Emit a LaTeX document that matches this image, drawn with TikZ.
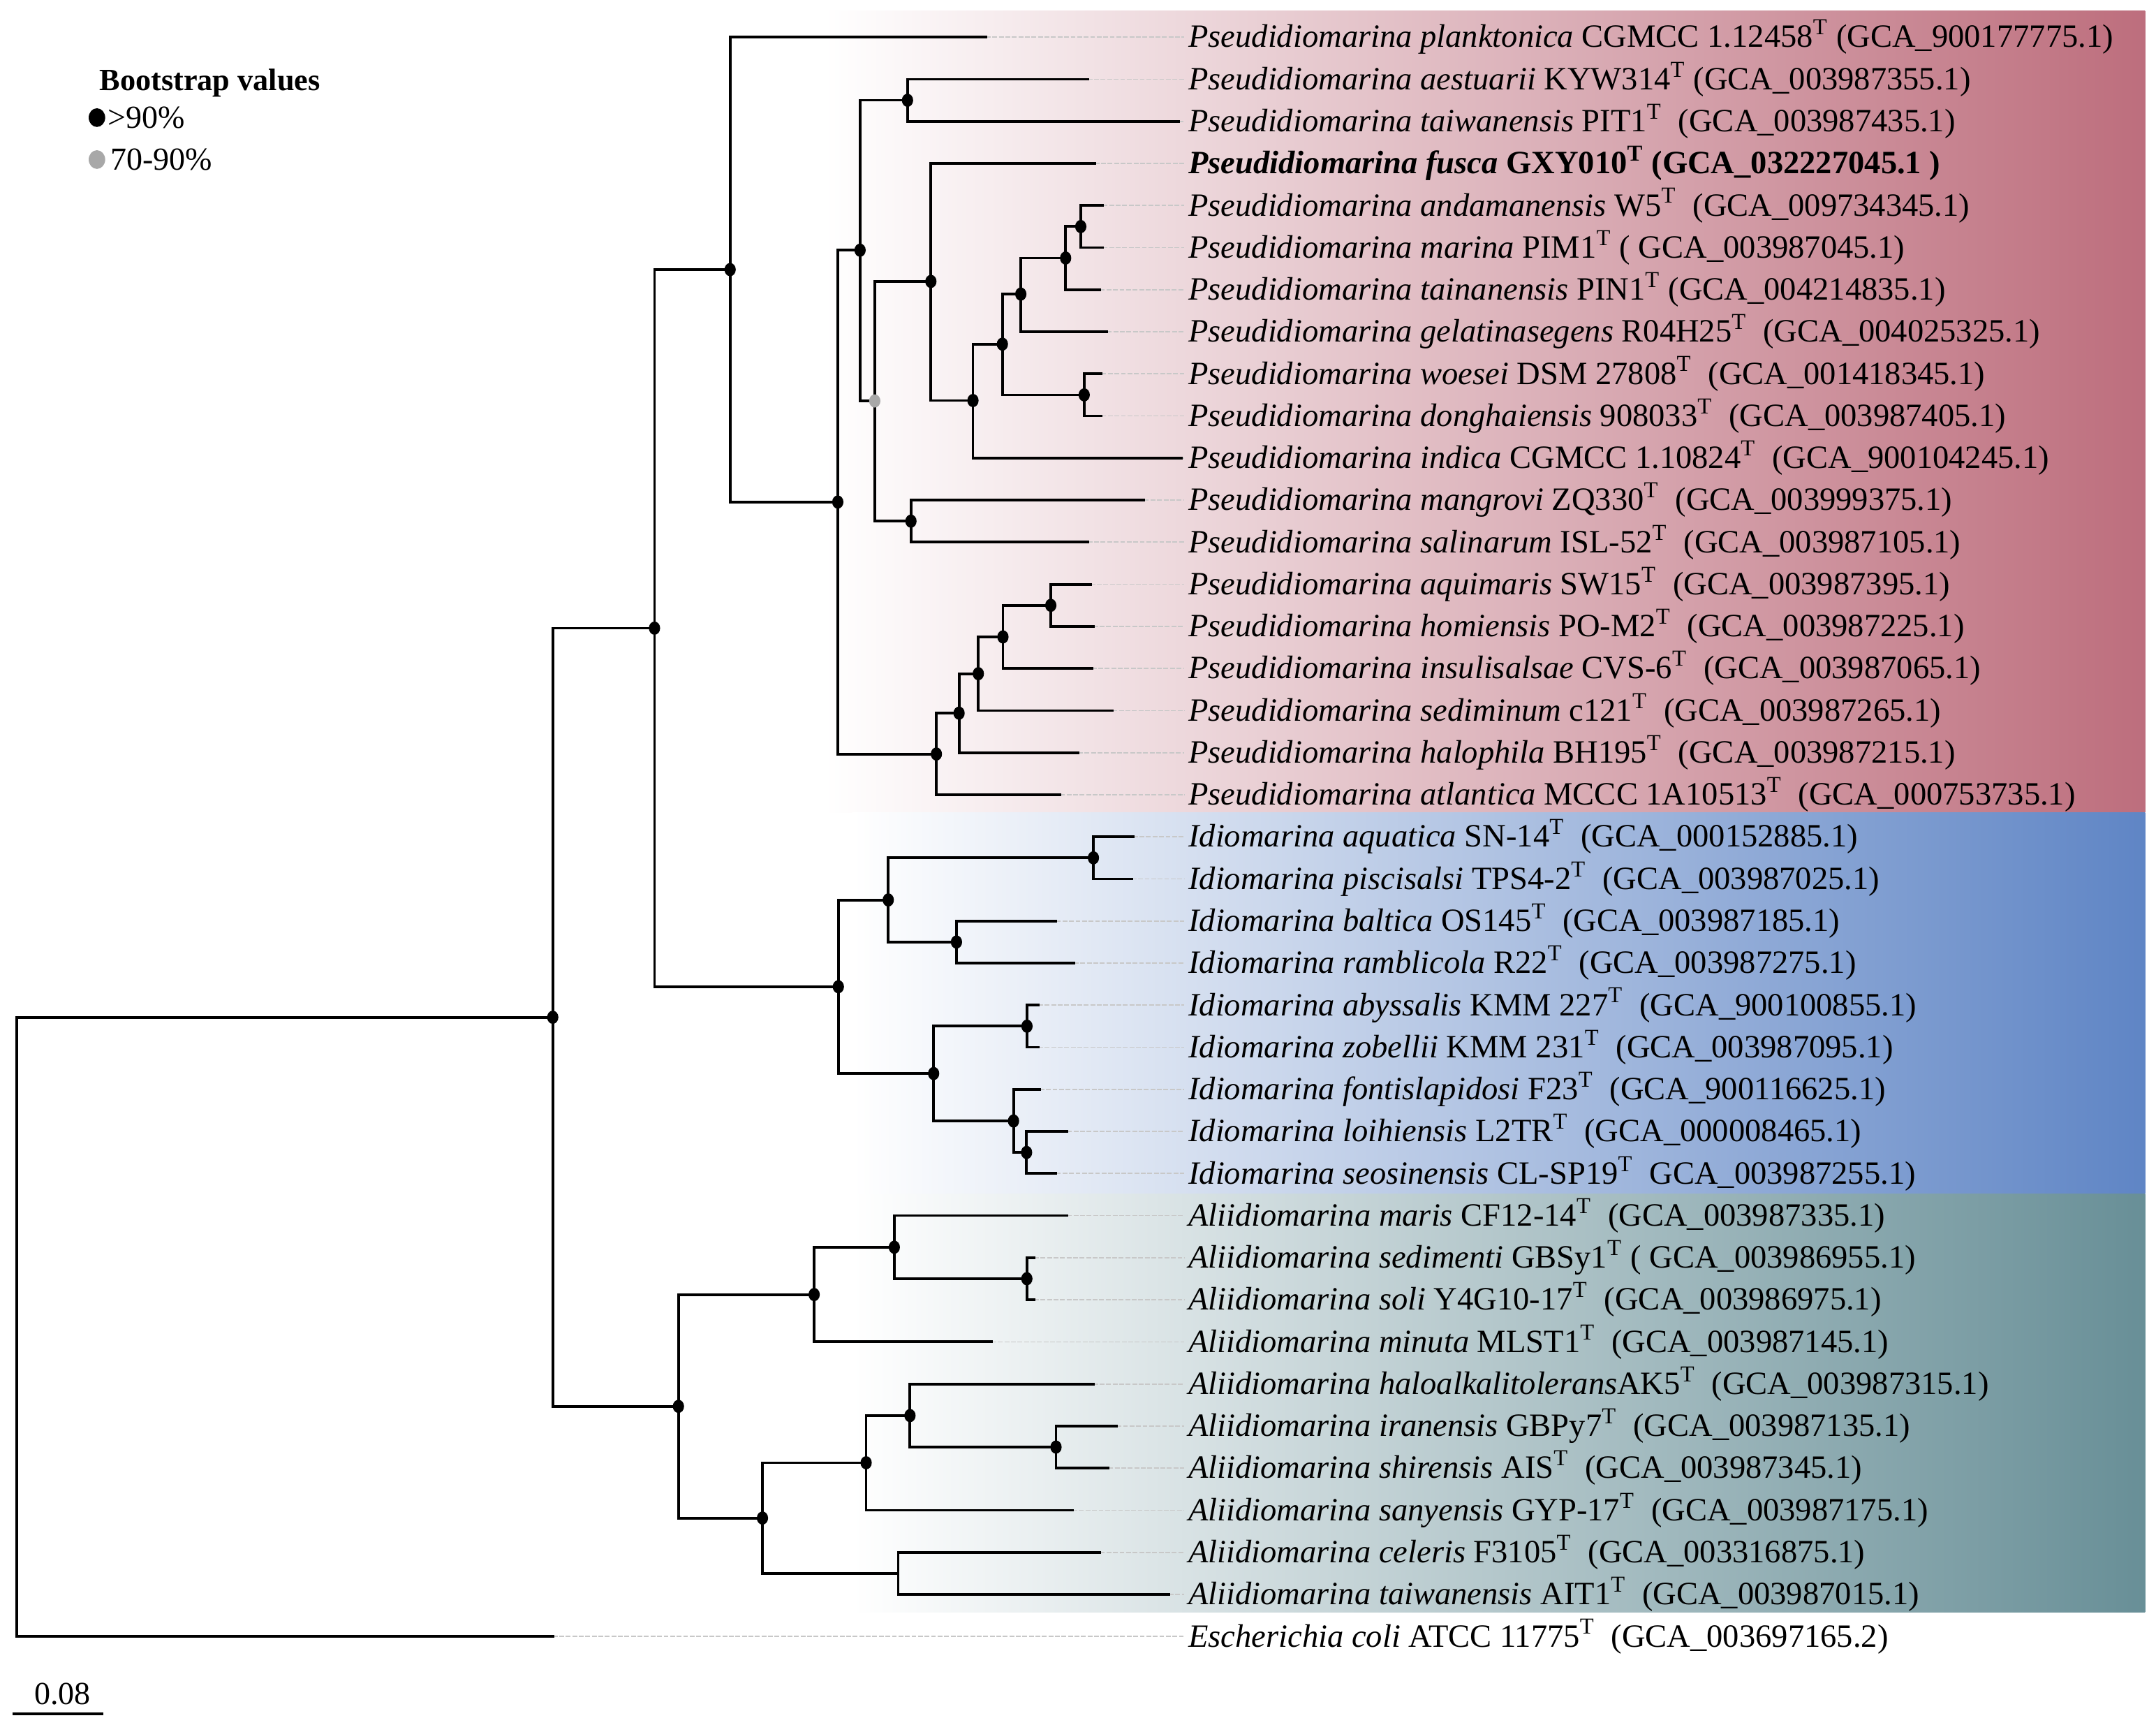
\documentclass[tikz,border=0pt]{standalone}
\usepackage{fontspec}
\setmainfont{Liberation Serif}
\definecolor{pinkc}{HTML}{BD6E7D}
\definecolor{bluec}{HTML}{5F85C5}
\definecolor{tealc}{HTML}{688F97}
\definecolor{guidec}{HTML}{C8C8C8}
\definecolor{dotgray}{HTML}{A8A8A8}
\tikzset{
  br/.style={line width=1.1pt, line join=miter, line cap=rect},
  guide/.style={guidec, line width=0.5pt, dash pattern=on 2pt off 0.7pt},
  lab/.style={anchor=base west, inner sep=0pt, font=\fontsize{13.45}{16}\selectfont},
  bdot/.style={fill=black},
  gdot/.style={fill=dotgray},
  legtxt/.style={anchor=base west, inner sep=0pt, font=\fontsize{13.3}{16}\selectfont}
}
\begin{document}
\begin{tikzpicture}[x=0.02cm, y=-0.02cm]
\useasboundingbox (0,0) rectangle (1568,1259);
% clade bands
\shade[left color=white, middle color=pinkc!33!white, right color=pinkc] (600,8) rectangle (1560,591);
\shade[left color=white, middle color=bluec!33!white, right color=bluec] (620,591) rectangle (1560,868);
\shade[left color=white, middle color=tealc!33!white, right color=tealc] (620,868) rectangle (1560,1172);
% leaves
\foreach \i/\xe/\txt in {
0/717/{\textit{Pseudidiomarina planktonica} CGMCC 1.12458\textsuperscript{T} (GCA\_900177775.1)},
1/791/{\textit{Pseudidiomarina aestuarii} KYW314\textsuperscript{T} (GCA\_003987355.1)},
2/857/{\textit{Pseudidiomarina taiwanensis} PIT1\textsuperscript{T}~ (GCA\_003987435.1)},
3/796/{\textbf{\textit{Pseudidiomarina fusca} GXY010\textsuperscript{T} (GCA\_032227045.1 )}},
4/802/{\textit{Pseudidiomarina andamanensis} W5\textsuperscript{T}~ (GCA\_009734345.1)},
5/802/{\textit{Pseudidiomarina marina} PIM1\textsuperscript{T} ( GCA\_003987045.1)},
6/800/{\textit{Pseudidiomarina tainanensis} PIN1\textsuperscript{T} (GCA\_004214835.1)},
7/805/{\textit{Pseudidiomarina gelatinasegens} R04H25\textsuperscript{T}~ (GCA\_004025325.1)},
8/801/{\textit{Pseudidiomarina woesei} DSM 27808\textsuperscript{T}~ (GCA\_001418345.1)},
9/801/{\textit{Pseudidiomarina donghaiensis} 908033\textsuperscript{T}~ (GCA\_003987405.1)},
10/859/{\textit{Pseudidiomarina indica} CGMCC 1.10824\textsuperscript{T}~ (GCA\_900104245.1)},
11/832/{\textit{Pseudidiomarina mangrovi} ZQ330\textsuperscript{T}~ (GCA\_003999375.1)},
12/791/{\textit{Pseudidiomarina salinarum} ISL-52\textsuperscript{T}~ (GCA\_003987105.1)},
13/793/{\textit{Pseudidiomarina aquimaris} SW15\textsuperscript{T}~ (GCA\_003987395.1)},
14/795/{\textit{Pseudidiomarina homiensis} PO-M2\textsuperscript{T}~ (GCA\_003987225.1)},
15/794/{\textit{Pseudidiomarina insulisalsae} CVS-6\textsuperscript{T}~ (GCA\_003987065.1)},
16/809/{\textit{Pseudidiomarina sediminum} c121\textsuperscript{T}~ (GCA\_003987265.1)},
17/784/{\textit{Pseudidiomarina halophila} BH195\textsuperscript{T}~ (GCA\_003987215.1)},
18/771/{\textit{Pseudidiomarina atlantica} MCCC 1A10513\textsuperscript{T}~ (GCA\_000753735.1)},
19/824/{\textit{Idiomarina aquatica} SN-14\textsuperscript{T}~ (GCA\_000152885.1)},
20/823/{\textit{Idiomarina piscisalsi} TPS4-2\textsuperscript{T}~ (GCA\_003987025.1)},
21/768/{\textit{Idiomarina baltica} OS145\textsuperscript{T}~ (GCA\_003987185.1)},
22/781/{\textit{Idiomarina ramblicola} R22\textsuperscript{T}~ (GCA\_003987275.1)},
23/755/{\textit{Idiomarina abyssalis} KMM 227\textsuperscript{T}~ (GCA\_900100855.1)},
24/755/{\textit{Idiomarina zobellii} KMM 231\textsuperscript{T}~ (GCA\_003987095.1)},
25/756/{\textit{Idiomarina fontislapidosi} F23\textsuperscript{T}~ (GCA\_900116625.1)},
26/776/{\textit{Idiomarina loihiensis} L2TR\textsuperscript{T}~ (GCA\_000008465.1)},
27/768/{\textit{Idiomarina seosinensis} CL-SP19\textsuperscript{T}~ GCA\_003987255.1)},
28/776/{\textit{Aliidiomarina maris} CF12-14\textsuperscript{T}~ (GCA\_003987335.1)},
29/752/{\textit{Aliidiomarina sedimenti} GBSy1\textsuperscript{T} ( GCA\_003986955.1)},
30/752/{\textit{Aliidiomarina soli} Y4G10-17\textsuperscript{T}~ (GCA\_003986975.1)},
31/721/{\textit{Aliidiomarina minuta} MLST1\textsuperscript{T}~ (GCA\_003987145.1)},
32/795/{\textit{Aliidiomarina haloalkalitolerans}AK5\textsuperscript{T}~ (GCA\_003987315.1)},
33/812/{\textit{Aliidiomarina iranensis} GBPy7\textsuperscript{T}~ (GCA\_003987135.1)},
34/806/{\textit{Aliidiomarina shirensis} AIS\textsuperscript{T}~ (GCA\_003987345.1)},
35/780/{\textit{Aliidiomarina sanyensis} GYP-17\textsuperscript{T}~ (GCA\_003987175.1)},
36/800/{\textit{Aliidiomarina celeris} F3105\textsuperscript{T}~ (GCA\_003316875.1)},
37/850/{\textit{Aliidiomarina taiwanensis} AIT1\textsuperscript{T}~ (GCA\_003987015.1)},
38/402/{\textit{Escherichia coli} ATCC 11775\textsuperscript{T}~ (GCA\_003697165.2)}}{
  \coordinate (l\i) at (\xe,{27+30.6*\i});
  \node[lab] (t\i) at (864,{27+30.6*\i+7.5}) {\txt};
  \draw[guide] (l\i) -- ([xshift=-1.5pt]l\i -| t\i.west);
}
% internal nodes
\coordinate (R) at (12,964);
\coordinate (A) at (402,739.6);
\coordinate (B) at (476,456.7);
\coordinate (Ali) at (493.4,1022.5);
\coordinate (Pse) at (531,196);
\coordinate (Idi) at (609.7,717.4);
\coordinate (P2) at (609.3,365);
\coordinate (P3) at (625.5,181.9);
\coordinate (PA) at (660,72.9);
\coordinate (Pgr) at (636.2,291.5);
\coordinate (Pfu) at (677,204.6);
\coordinate (Pk) at (707.6,291.2);
\coordinate (Pj) at (729,250.2);
\coordinate (Ph) at (742.4,213.8);
\coordinate (Pg) at (775,187.6);
\coordinate (Pf) at (786,164.7);
\coordinate (Pw) at (788.5,287.1);
\coordinate (Pma) at (662.5,378.9);
\coordinate (Pb) at (681,548.2);
\coordinate (Pc) at (697.5,518.5);
\coordinate (Pd) at (711.5,489.8);
\coordinate (Pe) at (729.4,463.05);
\coordinate (Paq) at (764.2,440.1);
\coordinate (Ia) at (646,654.3);
\coordinate (Iaq) at (795.2,623.7);
\coordinate (Iba) at (695.6,684.9);
\coordinate (Ib) at (679,780.5);
\coordinate (Iab) at (746.9,746.1);
\coordinate (If) at (737.1,815);
\coordinate (Il) at (746.6,837.9);
\coordinate (Aa) at (592.1,941.2);
\coordinate (Am) at (650.4,906.8);
\coordinate (As) at (746.8,929.7);
\coordinate (Ab) at (554.5,1103.7);
\coordinate (Ac) at (629.9,1063.5);
\coordinate (Ah) at (661.8,1029.2);
\coordinate (Ai) at (768,1052.1);
\coordinate (Ace) at (653.2,1143.9);
% branches
\foreach \p/\a/\b in {R/A/l38, A/B/Ali, B/Pse/Idi, Pse/l0/P2, P2/P3/Pb, P3/PA/Pgr,
  PA/l1/l2, Pgr/Pfu/Pma, Pfu/l3/Pk, Pk/Pj/l10, Pj/Ph/Pw, Ph/Pg/l7, Pg/Pf/l6,
  Pf/l4/l5, Pw/l8/l9, Pma/l11/l12, Pb/Pc/l18, Pc/Pd/l17, Pd/Pe/l16, Pe/Paq/l15,
  Paq/l13/l14, Idi/Ia/Ib, Ia/Iaq/Iba, Iaq/l19/l20, Iba/l21/l22, Ib/Iab/If,
  Iab/l23/l24, If/l25/Il, Il/l26/l27, Ali/Aa/Ab, Aa/Am/l31, Am/l28/As,
  As/l29/l30, Ab/Ac/Ace, Ac/Ah/l35, Ah/l32/Ai, Ai/l33/l34, Ace/l36/l37}{
  \draw[br] (\a) -| (\p) |- (\b);
}
% bootstrap dots
\foreach \n in {A,B,Ali,Pse,Idi,P2,P3,PA,Pfu,Pk,Pj,Ph,Pg,Pf,Pw,Pma,Pb,Pc,Pd,Pe,Paq,
  Ia,Iaq,Iba,Ib,Iab,If,Il,Aa,Am,As,Ab,Ac,Ah,Ai}{
  \fill[bdot] (\n) ellipse [x radius=4.1, y radius=4.8];
}
\fill[gdot] (Pgr) ellipse [x radius=4.1, y radius=4.8];
% legend
\node[legtxt, font=\fontsize{12.8}{15}\selectfont\bfseries] (legtitle) at (72,66) {Bootstrap values};
\coordinate (lgd1) at (70.5,85.5);
\coordinate (lgd2) at (70.5,116);
\fill[bdot] (lgd1) ellipse [x radius=6, y radius=6.8];
\fill[gdot] (lgd2) ellipse [x radius=6, y radius=6.8];
\node[legtxt] (leg1) at (78,93) {>90\%};
\node[legtxt] (leg2) at (80,123.5) {70-90\%};
% scale bar
\coordinate (sb1) at (9,1246);
\coordinate (sb2) at (75,1246);
\draw[line width=1.1pt] (sb1) -- (sb2);
\node[legtxt, anchor=base] (sbl) at (45.5,1239) {0.08};
\end{tikzpicture}
\end{document}
